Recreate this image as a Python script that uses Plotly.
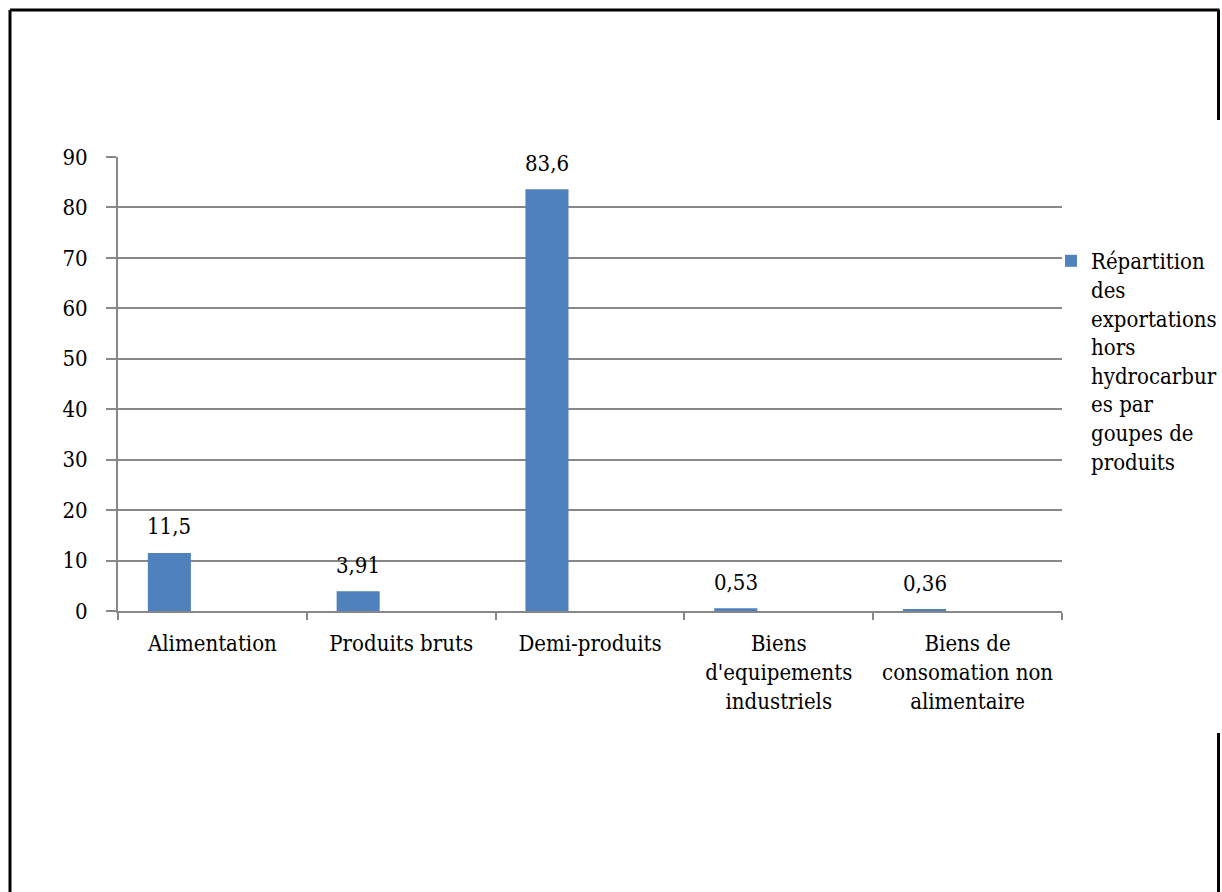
import plotly.graph_objects as go

categories = ["Alimentation", "Produits bruts", "Demi-produits",
              "Biens<br>d'equipements<br>industriels",
              "Biens de<br>consomation non<br>alimentaire"]
values = [11.5, 3.91, 83.6, 0.53, 0.36]
value_labels = ["11,5", "3,91", "83,6", "0,53", "0,36"]
series_name = ("Répartition<br>des<br>exportations<br>hors<br>hydrocarbur<br>"
               "es par<br>goupes de<br>produits")
y_ticks = [0, 10, 20, 30, 40, 50, 60, 70, 80, 90]

W, H = 1222, 892
L, R, T, B = 118, 1062, 157, 611
FONT = "DejaVu Serif Condensed"
FS = 22
GRID = "#878787"
BLUE = "#4F81BD"

def px_x(px):
    return (px - L) / (R - L)

def px_y(py):
    return (B - py) / (B - T)

BAR_W = 0.228
BAR_OFF = -0.342

fig = go.Figure()
fig.add_trace(go.Bar(
    x=categories, y=values, name=series_name,
    marker=dict(color=BLUE, line=dict(width=0)),
    width=BAR_W, offset=BAR_OFF, showlegend=True,
))

annotations = []
for i, (v, lab) in enumerate(zip(values, value_labels)):
    annotations.append(dict(
        x=i + BAR_OFF + BAR_W / 2, y=v, xref="x", yref="y",
        text=lab, showarrow=False, yanchor="middle", yshift=26,
        font=dict(family=FONT, size=FS, color="#000000"),
    ))

frame = dict(color="#000000", width=3)
shapes = [
    dict(type="line", xref="paper", yref="paper", x0=px_x(10), x1=px_x(10),
         y0=px_y(10), y1=px_y(H + 5), line=frame),
    dict(type="line", xref="paper", yref="paper", x0=px_x(10), x1=px_x(1219.5),
         y0=px_y(10), y1=px_y(10), line=frame),
    dict(type="line", xref="paper", yref="paper", x0=px_x(1218.5), x1=px_x(1218.5),
         y0=px_y(10), y1=px_y(120), line=frame),
    dict(type="line", xref="paper", yref="paper", x0=px_x(1218.5), x1=px_x(1218.5),
         y0=px_y(733), y1=px_y(H + 5), line=frame),
]

fig.update_layout(
    width=W, height=H,
    margin=dict(l=L, r=W - R, t=T, b=H - B, pad=0, autoexpand=False),
    paper_bgcolor="white", plot_bgcolor="white",
    font=dict(family=FONT, size=FS, color="#000000"),
    showlegend=True,
    legend=dict(
        x=px_x(1051), y=px_y(240), xanchor="left", yanchor="top",
        valign="top", font=dict(family=FONT, size=FS, color="#000000"),
        bgcolor="rgba(0,0,0,0)", borderwidth=0, tracegroupgap=0,
    ),
    xaxis=dict(
        showline=True, linecolor=GRID, linewidth=2, tickangle=0,
        ticks="outside", tickson="boundaries", ticklen=7, tickwidth=2,
        tickcolor=GRID, showgrid=False, zeroline=False,
        tickfont=dict(family=FONT, size=FS, color="#000000"),
        ticklabelstandoff=12,
    ),
    yaxis=dict(
        range=[0, 90], tickvals=y_ticks, showgrid=True, gridcolor=GRID,
        gridwidth=2, showline=True, linecolor=GRID, linewidth=2,
        ticks="outside", ticklen=10, tickwidth=2, tickcolor=GRID,
        zeroline=False,
        tickfont=dict(family=FONT, size=FS, color="#000000"),
        ticklabelstandoff=14,
    ),
    annotations=annotations,
    shapes=shapes,
)

fig.write_html("out.html")
